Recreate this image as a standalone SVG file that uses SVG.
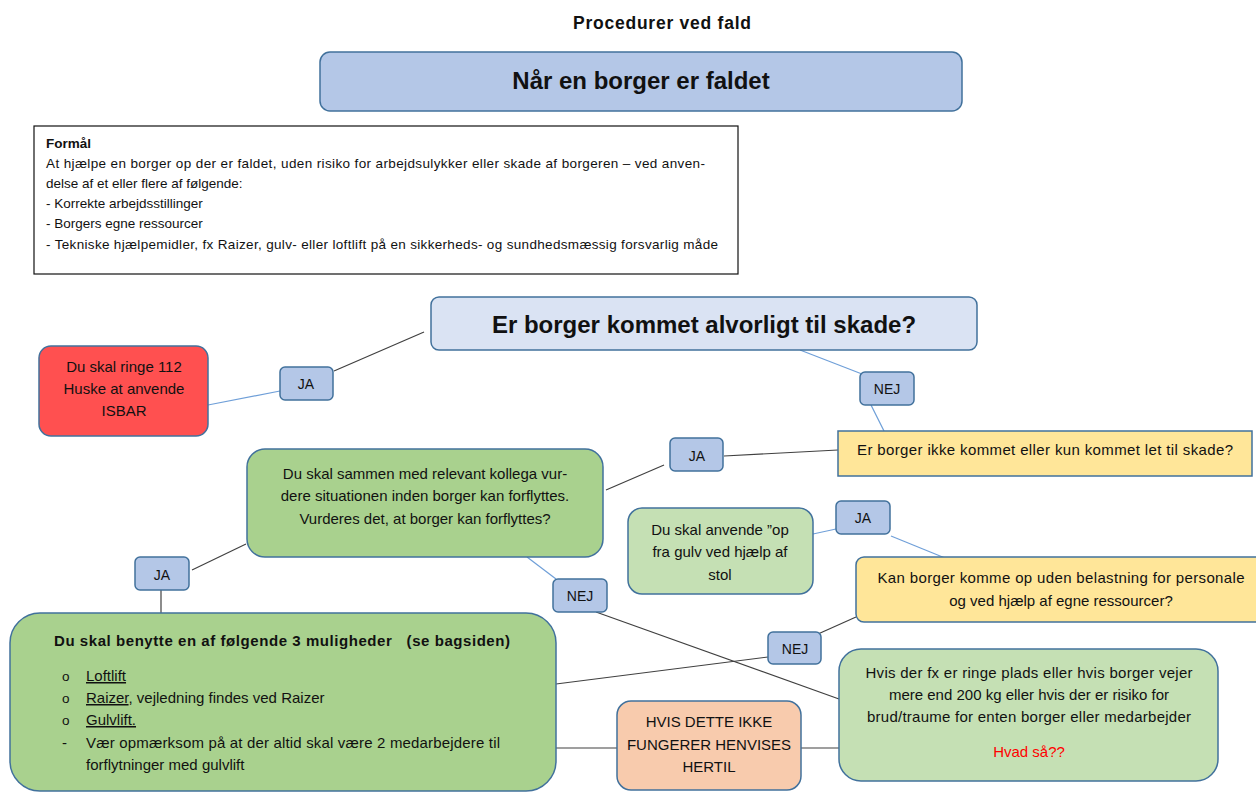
<svg xmlns="http://www.w3.org/2000/svg" width="1256" height="792" viewBox="0 0 1256 792">
<style>
text{font-family:"Liberation Sans",Arial,sans-serif;fill:#111}
.b{font-weight:bold}
.node{stroke:#41719c;stroke-width:1.5}
.lab{fill:#b4c7e7}
.c{text-anchor:middle}
.dk{stroke:#404040;stroke-width:1.2;fill:none}
.lb{stroke:#6f9fd8;stroke-width:1.2;fill:none}
.t15{font-size:15px}
.t14{font-size:14px}
.t13{font-size:13.5px}
.u{text-decoration:underline}
</style>
<rect width="1256" height="792" fill="#fff"/>
<text x="662" y="29" class="b c" font-size="17.5" textLength="178">Procedurer ved fald</text>

<g id="connectors">
<line class="dk" x1="334" y1="371" x2="424" y2="332"/>
<line class="lb" x1="208" y1="405" x2="280" y2="391"/>
<line class="lb" x1="800" y1="350" x2="862" y2="374"/>
<line class="lb" x1="871" y1="405" x2="884" y2="431"/>
<line class="dk" x1="724" y1="456" x2="838" y2="450"/>
<line class="dk" x1="606" y1="490" x2="664" y2="465"/>
<line class="dk" x1="246" y1="544" x2="192" y2="570"/>
<line class="dk" x1="161" y1="590" x2="161" y2="617"/>
<line class="lb" x1="527" y1="557" x2="556" y2="579"/>
<line class="dk" x1="596" y1="612" x2="839" y2="699"/>
<line class="lb" x1="813" y1="534" x2="836" y2="529"/>
<line class="lb" x1="891" y1="536" x2="945" y2="558"/>
<line class="dk" x1="856" y1="617" x2="818" y2="634"/>
<line class="dk" x1="768" y1="657" x2="556" y2="684"/>
<line class="dk" x1="556" y1="748" x2="617" y2="748" stroke="#7f7f7f"/>
<line class="dk" x1="801" y1="748" x2="840" y2="748" stroke="#7f7f7f"/>
</g>

<g id="n-top">
<rect class="node" x="320" y="52" width="642" height="59" rx="10" fill="#b4c7e7"/>
<text x="641" y="89" class="b c" font-size="24">Når en borger er faldet</text>
</g>

<g id="n-formaal">
<rect x="34" y="126" width="704" height="148" fill="#fff" stroke="#111" stroke-width="1.2"/>
<text x="46" y="148" class="b t13">Formål</text>
<text x="46" y="168" class="t13" textLength="659">At hjælpe en borger op der er faldet, uden risiko for arbejdsulykker eller skade af borgeren – ved anven-</text>
<text x="46" y="188" class="t13">delse af et eller flere af følgende:</text>
<text x="46" y="208" class="t13">- Korrekte arbejdsstillinger</text>
<text x="46" y="228" class="t13">- Borgers egne ressourcer</text>
<text x="46" y="249" class="t13" textLength="672">- Tekniske hjælpemidler, fx Raizer, gulv- eller loftlift på en sikkerheds- og sundhedsmæssig forsvarlig måde</text>
</g>

<g id="n-question">
<rect class="node" x="431" y="297" width="546" height="53" rx="8" fill="#dae3f3"/>
<text x="704" y="333" class="b c" font-size="24">Er borger kommet alvorligt til skade?</text>
</g>

<g id="n-red">
<rect class="node" x="39" y="346" width="169" height="90" rx="12" fill="#ff5050"/>
<text x="124" y="372" class="c t15">Du skal ringe 112</text>
<text x="124" y="394" class="c t15">Huske at anvende</text>
<text x="124" y="416" class="c t15">ISBAR</text>
</g>

<g id="l-ja1">
<rect class="node lab" x="280" y="367" width="53" height="33" rx="5"/>
<text x="306" y="389" class="c t14">JA</text>
</g>

<g id="l-nej1">
<rect class="node lab" x="860" y="372" width="54" height="33" rx="5"/>
<text x="887" y="394" class="c t14">NEJ</text>
</g>

<g id="n-yellow1">
<rect class="node" x="838" y="431" width="414" height="45" fill="#ffe699"/>
<text x="1045" y="455" class="c t15" textLength="376">Er borger ikke kommet eller kun kommet let til skade?</text>
</g>

<g id="l-ja2">
<rect class="node lab" x="670" y="438" width="53" height="33" rx="5"/>
<text x="697" y="461" class="c t14">JA</text>
</g>

<g id="n-green1">
<rect class="node" x="247" y="449" width="356" height="108" rx="18" fill="#a9d18e"/>
<text x="425" y="479" class="c t15">Du skal sammen med relevant kollega vur-</text>
<text x="425" y="501" class="c t15">dere situationen inden borger kan forflyttes.</text>
<text x="425" y="524" class="c t15">Vurderes det, at borger kan forflyttes?</text>
</g>

<g id="l-ja3">
<rect class="node lab" x="135" y="557" width="54" height="33" rx="5"/>
<text x="162" y="580" class="c t14">JA</text>
</g>

<g id="l-nej2">
<rect class="node lab" x="553" y="579" width="54" height="33" rx="5"/>
<text x="580" y="601" class="c t14">NEJ</text>
</g>

<g id="n-stol">
<rect class="node" x="628" y="508" width="185" height="86" rx="14" fill="#c5e0b4"/>
<text x="720" y="535" class="c t15">Du skal anvende ”op</text>
<text x="720" y="557" class="c t15">fra gulv ved hjælp af</text>
<text x="720" y="580" class="c t15">stol</text>
</g>

<g id="l-ja4">
<rect class="node lab" x="836" y="501" width="54" height="33" rx="5"/>
<text x="863" y="523" class="c t14">JA</text>
</g>

<g id="n-yellow2">
<rect class="node" x="856" y="557" width="410" height="65" rx="8" fill="#ffe699"/>
<text x="1061" y="583" class="c t15" textLength="367">Kan borger komme op uden belastning for personale</text>
<text x="1061" y="606" class="c t15">og ved hjælp af egne ressourcer?</text>
</g>

<g id="l-nej3">
<rect class="node lab" x="768" y="632" width="53" height="32" rx="5"/>
<text x="795" y="654" class="c t14">NEJ</text>
</g>

<g id="n-options">
<rect class="node" x="10" y="613" width="546" height="178" rx="30" fill="#a9d18e"/>
<text x="54" y="646" class="b t15" textLength="456" xml:space="preserve">Du skal benytte en af følgende 3 muligheder   (se bagsiden)</text>
<text x="62" y="681" class="t13">o</text>
<text x="86" y="681" class="t15"><tspan class="u">Loftlift</tspan></text>
<text x="62" y="703" class="t13">o</text>
<text x="86" y="703" class="t15"><tspan class="u">Raizer</tspan>, vejledning findes ved Raizer</text>
<text x="62" y="725" class="t13">o</text>
<text x="86" y="725" class="t15"><tspan class="u">Gulvlift.</tspan></text>
<text x="62" y="748" class="t15">-</text>
<text x="86" y="748" class="t15" textLength="414">Vær opmærksom på at der altid skal være 2 medarbejdere til</text>
<text x="86" y="770" class="t15">forflytninger med gulvlift</text>
</g>

<g id="n-henvis">
<rect class="node" x="617" y="701" width="184" height="89" rx="14" fill="#f8cbad"/>
<text x="709" y="727" class="c t15">HVIS DETTE IKKE</text>
<text x="709" y="750" class="c t15">FUNGERER HENVISES</text>
<text x="709" y="772" class="c t15">HERTIL</text>
</g>

<g id="n-hvis">
<rect class="node" x="839" y="649" width="379" height="132" rx="22" fill="#c5e0b4"/>
<text x="1029" y="678" class="c t15" textLength="327">Hvis der fx er ringe plads eller hvis borger vejer</text>
<text x="1029" y="700" class="c t15">mere end 200 kg eller hvis der er risiko for</text>
<text x="1029" y="722" class="c t15" textLength="324">brud/traume for enten borger eller medarbejder</text>
<text x="1029" y="757" class="c t15" style="fill:#ff0000">Hvad så??</text>
</g>
</svg>
